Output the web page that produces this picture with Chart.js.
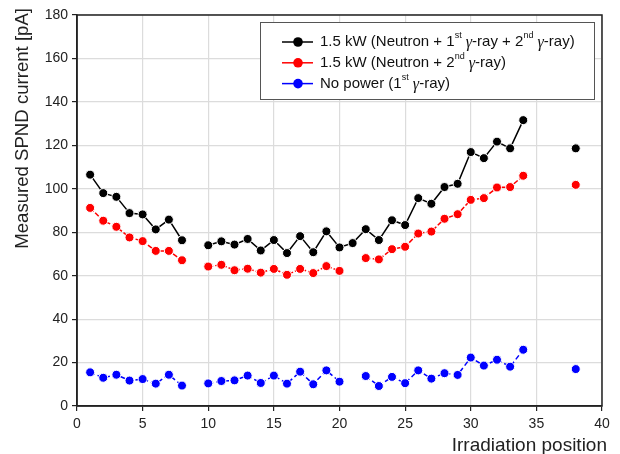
<!DOCTYPE html>
<html>
<head>
<meta charset="utf-8">
<script src="https://cdn.jsdelivr.net/npm/chart.js@4.4.0/dist/chart.umd.min.js"></script>
<style>
  html, body { margin: 0; padding: 0; background: #fff; }
  #wrap { width: 620px; height: 454px; }
</style>
</head>
<body>
<div id="wrap"><canvas id="chart" width="620" height="454"></canvas></div>
<script>
const positions = [1, 2, 3, 4, 5, 6, 7, 8, 9, 10, 11, 12, 13, 14, 15, 16, 17, 18, 19, 20,
  21, 22, 23, 24, 25, 26, 27, 28, 29, 30, 31, 32, 33, 34, 35, 36, 37, 38];

// 1.5 kW, neutron + 1st + 2nd gamma
const fullPower = [106.5, 98, 96.3, 88.8, 88.2, 81.3, 85.8, 76.3, null, 74,
  75.8, 74.3, 76.9, 71.6, 76.4, 70.4, 78.2, 70.8, 80.4, 73,
  75, 81.4, 76.4, 85.5, 83.3, 95.7, 93.1, 100.8, 102.3, 116.9,
  114.1, 121.7, 118.6, 131.6, null, null, null, 118.6];

// 1.5 kW, neutron + 2nd gamma
const secondGamma = [91.2, 85.3, 82.5, 77.6, 75.9, 71.4, 71.4, 67.1, null, 64.2,
  65, 62.5, 63.2, 61.4, 63.1, 60.4, 63.1, 61.2, 64.4, 62.2,
  null, 68.1, 67.5, 72.2, 73.3, 79.4, 80.3, 86.2, 88.3, 94.9,
  95.7, 100.6, 100.8, 106, null, null, null, 101.8];

// no power, 1st gamma only
const noPower = [15.5, 13, 14.4, 11.7, 12.4, 10.3, 14.4, 9.4, null, 10.4,
  11.5, 11.8, 14, 10.6, 14, 10.3, 15.8, 10, 16.4, 11.2,
  null, 13.8, 9.2, 13.4, 10.5, 16.4, 12.6, 15.1, 14.3, 22.3,
  18.6, 21.3, 18.1, 25.9, null, null, null, 17];

const seriesLabels = [
  '1.5 kW (Neutron + 1^{st} γ-ray + 2^{nd} γ-ray)',
  '1.5 kW (Neutron + 2^{nd} γ-ray)',
  'No power (1^{st} γ-ray)'
];

const xTicks = [0, 5, 10, 15, 20, 25, 30, 35, 40];
const yTicks = [0, 20, 40, 60, 80, 100, 120, 140, 160, 180];
const xTitle = 'Irradiation position';
const yTitle = 'Measured SPND current [pA]';

const toPoints = values => positions.map((x, i) => ({ x, y: values[i] }));

function makeSeries(label, values, color, dash) {
  return {
    label,
    data: toPoints(values),
    borderColor: color,
    backgroundColor: color,
    pointBackgroundColor: color,
    pointBorderColor: '#fff',
    pointBorderWidth: 1,
    pointRadius: 4.5,
    borderWidth: 1.5,
    borderDash: dash,
    spanGaps: false,
    tension: 0
  };
}

// text with ^{..} superscripts and a serif gamma
function drawRich(ctx, text, x, y) {
  const parts = text.split(/(\^\{[^}]*\}|γ)/).filter(p => p.length);
  ctx.textBaseline = 'middle';
  ctx.textAlign = 'left';
  parts.forEach(part => {
    let t = part, dy = 0;
    if (part.startsWith('^{')) {
      t = part.slice(2, -1);
      ctx.font = '9px "Liberation Sans", Arial, sans-serif';
      dy = -6;
    } else if (part === 'γ') {
      ctx.font = 'italic 16px "Liberation Serif", serif';
      dy = 1;
    } else {
      ctx.font = '15px "Liberation Sans", Arial, sans-serif';
    }
    ctx.fillText(t, x, y + dy);
    x += ctx.measureText(t).width;
  });
}

const framePlugin = {
  id: 'frame',
  afterDatasetsDraw(chart) {
    const { ctx, chartArea: a } = chart;
    ctx.save();
    ctx.strokeStyle = '#222';
    ctx.lineWidth = 1.5;
    ctx.strokeRect(a.left, a.top, a.right - a.left, a.bottom - a.top);
    ctx.restore();
  }
};

// axis titles sit a bit outside the plot edges, so they are placed by hand
const axisTitlePlugin = {
  id: 'axisTitles',
  afterDraw(chart) {
    const ctx = chart.ctx;
    ctx.save();
    ctx.fillStyle = '#222';
    ctx.font = '19px "Liberation Sans", Arial, sans-serif';
    ctx.textAlign = 'right';
    ctx.textBaseline = 'middle';
    ctx.fillText(xTitle, 607, 446);
    ctx.translate(23, 8);
    ctx.rotate(-Math.PI / 2);
    ctx.font = '18.6px "Liberation Sans", Arial, sans-serif';
    ctx.fillText(yTitle, 0, 0);
    ctx.restore();
  }
};

const legendPlugin = {
  id: 'boxLegend',
  afterDraw(chart) {
    const ctx = chart.ctx;
    const box = { x: 260, y: 22, w: 334, h: 77 };
    ctx.save();
    ctx.fillStyle = '#fff';
    ctx.fillRect(box.x, box.y, box.w, box.h);
    ctx.strokeStyle = '#555';
    ctx.lineWidth = 1;
    ctx.strokeRect(box.x + 0.5, box.y + 0.5, box.w, box.h);
    chart.data.datasets.forEach((ds, i) => {
      const cy = box.y + 20 + i * 20.8;
      ctx.setLineDash([]);
      ctx.strokeStyle = ds.borderColor;
      ctx.lineWidth = 1.5;
      ctx.beginPath();
      ctx.moveTo(282, cy);
      ctx.lineTo(313, cy);
      ctx.stroke();
      ctx.beginPath();
      ctx.arc(298, cy, 4.8, 0, Math.PI * 2);
      ctx.fillStyle = ds.pointBackgroundColor;
      ctx.fill();
      ctx.fillStyle = '#111';
      drawRich(ctx, ds.label, 320, cy);
    });
    ctx.restore();
  }
};

const tickFont = { family: '"Liberation Sans", Arial, sans-serif', size: 14 };

new Chart(document.getElementById('chart').getContext('2d'), {
  type: 'line',
  data: {
    datasets: [
      makeSeries(seriesLabels[0], fullPower, '#000000', []),
      makeSeries(seriesLabels[1], secondGamma, '#ff0000', [5, 2]),
      makeSeries(seriesLabels[2], noPower, '#0000ff', [5, 3])
    ]
  },
  options: {
    responsive: false,
    animation: false,
    devicePixelRatio: 1,
    layout: { padding: { left: 0, right: 18, top: 15, bottom: 0 } },
    plugins: {
      legend: { display: false },
      tooltip: { enabled: false }
    },
    scales: {
      x: {
        type: 'linear',
        min: 0,
        max: 40,
        afterBuildTicks: scale => { scale.ticks = xTicks.map(v => ({ value: v })); },
        afterFit: scale => { scale.height = 48; },
        ticks: { font: tickFont, color: '#222', padding: 5, maxRotation: 0 },
        grid: { color: '#dcdcdc', tickColor: '#222', tickLength: 5, lineWidth: 1.2 },
        border: { display: true, color: '#222', width: 1.5 },
        title: { display: false }
      },
      y: {
        min: 0,
        max: 180,
        afterBuildTicks: scale => { scale.ticks = yTicks.map(v => ({ value: v })); },
        afterFit: scale => { scale.width = 77; },
        ticks: { font: tickFont, color: '#222', padding: 4 },
        grid: { color: '#dcdcdc', tickColor: '#222', tickLength: 5, lineWidth: 1.2 },
        border: { display: true, color: '#222', width: 1.5 },
        title: { display: false }
      }
    }
  },
  plugins: [framePlugin, axisTitlePlugin, legendPlugin]
});
</script>
</body>
</html>
